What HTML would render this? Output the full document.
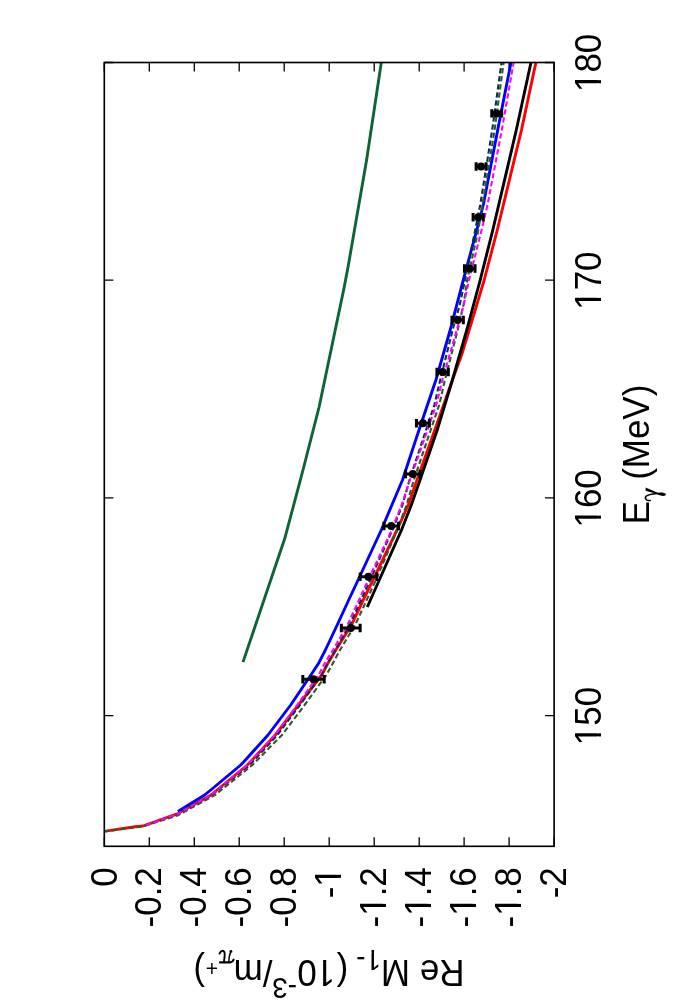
<!DOCTYPE html>
<html><head><meta charset="utf-8"><title>chart</title>
<style>html,body{margin:0;padding:0;background:#fff}body{width:700px;height:1000px;overflow:hidden}</style>
</head><body>
<svg width="700" height="1000" viewBox="0 0 700 1000" style="display:block">
<rect width="700" height="1000" fill="#fff"/>
<defs><clipPath id="c"><rect x="104.3" y="62.5" width="449.8" height="783.8"/></clipPath></defs>
<path d="M104.3,846.3v-9.1M104.3,62.5v9.1M149.3,846.3v-9.1M149.3,62.5v9.1M194.3,846.3v-9.1M194.3,62.5v9.1M239.2,846.3v-9.1M239.2,62.5v9.1M284.2,846.3v-9.1M284.2,62.5v9.1M329.2,846.3v-9.1M329.2,62.5v9.1M374.2,846.3v-9.1M374.2,62.5v9.1M419.2,846.3v-9.1M419.2,62.5v9.1M464.1,846.3v-9.1M464.1,62.5v9.1M509.1,846.3v-9.1M509.1,62.5v9.1M554.1,846.3v-9.1M554.1,62.5v9.1M554.1,715.67h-9.1M104.3,715.67h9.1M554.1,497.94h-9.1M104.3,497.94h9.1M554.1,280.22h-9.1M104.3,280.22h9.1M554.1,62.50h-9.1M104.3,62.50h9.1" stroke="#000" stroke-width="1.3" fill="none"/>
<g clip-path="url(#c)" fill="none" stroke-linejoin="round">
<polyline points="536.3,60.5 521.5,130.0 497.3,230.0 484.2,280.0 469.2,330.0 461.6,355.0 452.4,380.0 434.8,430.0 417.0,480.0 408.2,505.0 397.0,530.0 373.0,580.0 363.3,600.0 351.5,625.0 335.8,650.0 327.3,664.3 321.8,675.0 298.4,705.0 275.4,735.0 247.4,765.0 211.0,795.0 177.9,813.6 142.9,826.0 135.0,826.7 104.0,831.4" stroke="#ff0000" stroke-width="2.9"/>
<polyline points="381.6,60.5 366.6,160.0 348.4,265.0 344.2,287.3 319.1,407.0 303.0,470.0 285.0,537.7 243.0,662.1" stroke="#0b6635" stroke-width="2.9"/>
<polyline points="511.4,60.5 497.7,130.0 483.3,205.0 476.8,230.0 463.3,280.0 450.2,330.0 435.9,380.0 419.0,430.0 402.5,480.0 381.3,530.0 358.1,580.0 348.7,600.0 337.2,625.0 325.4,650.0 318.3,663.8 310.9,675.0 290.7,705.0 268.0,735.0 243.6,762.0 240.7,765.0 215.0,786.5 204.6,795.0 177.9,811.6" stroke="#0000ff" stroke-width="2.9"/>
<polyline points="531.4,60.5 516.3,130.0 492.8,230.0 480.2,280.0 466.8,330.0 452.4,380.0 437.2,430.0 420.0,480.0 411.3,505.0 401.5,530.0 379.3,580.0 367.3,607.0" stroke="#000" stroke-width="2.9"/>
<polyline points="146.0,825.2 177.9,813.7 211.8,795.0 249.7,765.0 277.4,735.0 300.0,705.0 321.5,675.0 327.0,664.3 335.4,650.0 349.6,625.0 361.1,600.0 370.1,580.0 392.4,530.0 402.5,505.0 409.5,480.0 426.0,430.0 434.3,405.0 440.2,380.0 452.6,330.0 459.7,305.0 465.0,280.0 475.2,230.0 480.2,205.0 492.2,130.0 501.8,60.5" stroke="#0a2d5e" stroke-width="2.1" stroke-dasharray="5.276 2.837"/>
<polyline points="104.0,831.4 142.9,826.4 177.5,815.5 215.0,795.0 252.4,765.0 282.0,735.0 304.6,705.0 326.3,675.0 332.3,664.3 340.0,650.0 355.1,625.0 366.7,600.0 375.9,580.0 397.2,530.0 406.6,505.0 413.8,480.0 430.7,430.0 439.2,405.0 444.9,380.0 457.7,330.0 463.5,305.0 467.2,280.0 478.4,230.0 494.6,130.0 503.9,60.5" stroke="#2a5c2a" stroke-width="2.1" stroke-dasharray="5.309 2.855"/>
<polyline points="146.0,825.2 177.9,813.7 211.0,795.0 247.4,765.0 274.8,735.0 297.2,705.0 318.6,675.0 324.1,664.3 333.0,650.0 347.4,625.0 359.0,600.0 368.2,580.0 391.7,530.0 401.6,505.0 410.0,480.0 427.5,430.0 436.2,405.0 442.4,380.0 456.8,330.0 463.7,305.0 469.0,280.0 481.6,230.0 487.5,205.0 501.8,130.0 514.0,60.5" stroke="#ff00ff" stroke-width="2.1" stroke-dasharray="5.278 2.838"/>
</g>
<path d="M491.75,113.40H501.65M491.75,109.20v8.4M501.65,109.20v8.4M476.15,166.55H486.05M476.15,162.35v8.4M486.05,162.35v8.4M473.10,217.20H483.30M473.10,213.00v8.4M483.30,213.00v8.4M464.45,268.50H475.05M464.45,264.30v8.4M475.05,264.30v8.4M451.95,320.00H463.35M451.95,315.80v8.4M463.35,315.80v8.4M436.95,372.00H448.35M436.95,367.80v8.4M448.35,367.80v8.4M416.45,423.20H429.35M416.45,419.00v8.4M429.35,419.00v8.4M405.45,474.00H420.05M405.45,469.80v8.4M420.05,469.80v8.4M383.95,526.00H398.55M383.95,521.80v8.4M398.55,521.80v8.4M360.15,576.70H376.75M360.15,572.50v8.4M376.75,572.50v8.4M341.35,628.00H360.15M341.35,623.80v8.4M360.15,623.80v8.4M302.80,679.20H324.20M302.80,675.00v8.4M324.20,675.00v8.4" stroke="#000" stroke-width="3.0" fill="none"/>
<circle cx="496.70" cy="113.40" r="3.95" fill="#000"/>
<circle cx="481.10" cy="166.55" r="3.95" fill="#000"/>
<circle cx="478.20" cy="217.20" r="3.95" fill="#000"/>
<circle cx="469.75" cy="268.50" r="3.95" fill="#000"/>
<circle cx="457.65" cy="320.00" r="3.95" fill="#000"/>
<circle cx="442.65" cy="372.00" r="3.95" fill="#000"/>
<circle cx="422.90" cy="423.20" r="3.95" fill="#000"/>
<circle cx="412.75" cy="474.00" r="3.95" fill="#000"/>
<circle cx="391.25" cy="526.00" r="3.95" fill="#000"/>
<circle cx="368.45" cy="576.70" r="3.95" fill="#000"/>
<circle cx="350.75" cy="628.00" r="3.95" fill="#000"/>
<circle cx="313.50" cy="679.20" r="3.95" fill="#000"/>
<rect x="104.3" y="62.5" width="449.8" height="783.8" fill="none" stroke="#000" stroke-width="1.65"/>
<g font-family="Liberation Sans, sans-serif" fill="#000" style="opacity:.999">
<g transform="translate(600.90,716.07) rotate(-90) scale(0.955,1)"><text x="-30.53" y="0" font-size="36.6">150</text><rect x="-28.64" y="-3.63" width="7.32" height="4.83" fill="#fff"/><rect x="-18.09" y="-3.63" width="7.03" height="4.83" fill="#fff"/></g>
<g transform="translate(600.90,498.34) rotate(-90) scale(0.955,1)"><text x="-30.53" y="0" font-size="36.6">160</text><rect x="-28.64" y="-3.63" width="7.32" height="4.83" fill="#fff"/><rect x="-18.09" y="-3.63" width="7.03" height="4.83" fill="#fff"/></g>
<g transform="translate(600.90,280.62) rotate(-90) scale(0.955,1)"><text x="-30.53" y="0" font-size="36.6">170</text><rect x="-28.64" y="-3.63" width="7.32" height="4.83" fill="#fff"/><rect x="-18.09" y="-3.63" width="7.03" height="4.83" fill="#fff"/></g>
<g transform="translate(600.90,62.90) rotate(-90) scale(0.955,1)"><text x="-30.53" y="0" font-size="36.6">180</text><rect x="-28.64" y="-3.63" width="7.32" height="4.83" fill="#fff"/><rect x="-18.09" y="-3.63" width="7.03" height="4.83" fill="#fff"/></g>
<g transform="translate(116.50,867.20) rotate(-90) scale(0.955,1)"><text x="-20.36" y="0" font-size="36.6">0</text></g>
<g transform="translate(161.48,867.20) rotate(-90) scale(0.955,1)"><text x="-63.07" y="0" font-size="36.6">-0.2</text></g>
<g transform="translate(206.46,867.20) rotate(-90) scale(0.955,1)"><text x="-63.07" y="0" font-size="36.6">-0.4</text></g>
<g transform="translate(251.44,867.20) rotate(-90) scale(0.955,1)"><text x="-63.07" y="0" font-size="36.6">-0.6</text></g>
<g transform="translate(296.42,867.20) rotate(-90) scale(0.955,1)"><text x="-63.07" y="0" font-size="36.6">-0.8</text></g>
<g transform="translate(341.40,867.20) rotate(-90) scale(0.955,1)"><text x="-32.54" y="0" font-size="36.6">-1</text><rect x="-18.47" y="-3.63" width="7.32" height="4.83" fill="#fff"/><rect x="-7.92" y="-3.63" width="7.03" height="4.83" fill="#fff"/></g>
<g transform="translate(386.38,867.20) rotate(-90) scale(0.955,1)"><text x="-63.07" y="0" font-size="36.6">-1.2</text><rect x="-48.99" y="-3.63" width="7.32" height="4.83" fill="#fff"/><rect x="-38.44" y="-3.63" width="7.03" height="4.83" fill="#fff"/></g>
<g transform="translate(431.36,867.20) rotate(-90) scale(0.955,1)"><text x="-63.07" y="0" font-size="36.6">-1.4</text><rect x="-48.99" y="-3.63" width="7.32" height="4.83" fill="#fff"/><rect x="-38.44" y="-3.63" width="7.03" height="4.83" fill="#fff"/></g>
<g transform="translate(476.34,867.20) rotate(-90) scale(0.955,1)"><text x="-63.07" y="0" font-size="36.6">-1.6</text><rect x="-48.99" y="-3.63" width="7.32" height="4.83" fill="#fff"/><rect x="-38.44" y="-3.63" width="7.03" height="4.83" fill="#fff"/></g>
<g transform="translate(521.32,867.20) rotate(-90) scale(0.955,1)"><text x="-63.07" y="0" font-size="36.6">-1.8</text><rect x="-48.99" y="-3.63" width="7.32" height="4.83" fill="#fff"/><rect x="-38.44" y="-3.63" width="7.03" height="4.83" fill="#fff"/></g>
<g transform="translate(566.30,867.20) rotate(-90) scale(0.955,1)"><text x="-32.54" y="0" font-size="36.6">-2</text></g>
<g transform="translate(649.10,524.30) rotate(-90) scale(0.955,1)"><text font-size="36.6">E</text></g>
<g transform="translate(649.10,479.80) rotate(-90) scale(0.955,1)"><text font-size="36.6">(MeV)</text></g>
<path d="M645.6,487.5 L657.7,492.8 L657.1,494.1 L645.6,490.7 Z" fill="#000"/>
<path d="M650.3,500.4 C646.6,501.1 644.2,498.6 646.1,496.3 C647.9,494.4 653,493.8 657.2,493.4" fill="none" stroke="#000" stroke-width="1.5" stroke-linecap="round"/>
<path d="M656.3,493.1 C659,492.1 665.8,492.2 665.8,494.5 C665.8,496.8 660,496.1 656.3,493.7 Z" fill="#000"/>
<g transform="translate(464.40,960.00) rotate(180) scale(0.955,1)"><text font-size="36.6">Re M</text></g>
<g transform="translate(381.04,950.20) rotate(180) scale(0.955,1)"><text font-size="29.3">1-</text><rect x="1.33" y="-3.09" width="6.04" height="4.29" fill="#fff"/><rect x="9.96" y="-3.09" width="5.81" height="4.29" fill="#fff"/></g>
<g transform="translate(348.20,960.00) rotate(180) scale(0.955,1)"><text font-size="36.6">(</text></g>
<g transform="translate(335.00,960.00) rotate(180) scale(0.955,1)"><text font-size="36.6">1</text><rect x="1.89" y="-3.63" width="7.32" height="4.83" fill="#fff"/><rect x="12.44" y="-3.63" width="7.03" height="4.83" fill="#fff"/></g>
<g transform="translate(316.70,960.00) rotate(180) scale(0.955,1)"><text font-size="36.6">0</text></g>
<g transform="translate(296.96,977.60) rotate(180) scale(0.955,1)"><text font-size="29.3">-3</text></g>
<g transform="translate(272.46,960.00) rotate(180) scale(0.955,1)"><text font-size="36.6">/m</text></g>
<g transform="translate(217.90,961.10) rotate(180) scale(0.955,1)"><text font-size="22.0">+</text></g>
<g transform="translate(205.00,960.00) rotate(180) scale(0.955,1)"><text font-size="36.6">)</text></g>
<g fill="none" stroke="#000" stroke-linecap="round" stroke-linejoin="round"><path d="M220,962.4 H230.4 Q232.8,962.1 233.6,959.7" stroke-width="2.1"/><path d="M223.9,962 C224.4,958.5 225.3,954 224.3,952 C223.4,950.1 221,950.3 219.5,953.6" stroke-width="1.9"/><path d="M228.8,962 C228.8,958 229.5,954.5 230.7,951.6" stroke-width="1.5"/></g><circle cx="230.9" cy="951.4" r="1.45" fill="#000"/>
</g>
</svg>
</body></html>
